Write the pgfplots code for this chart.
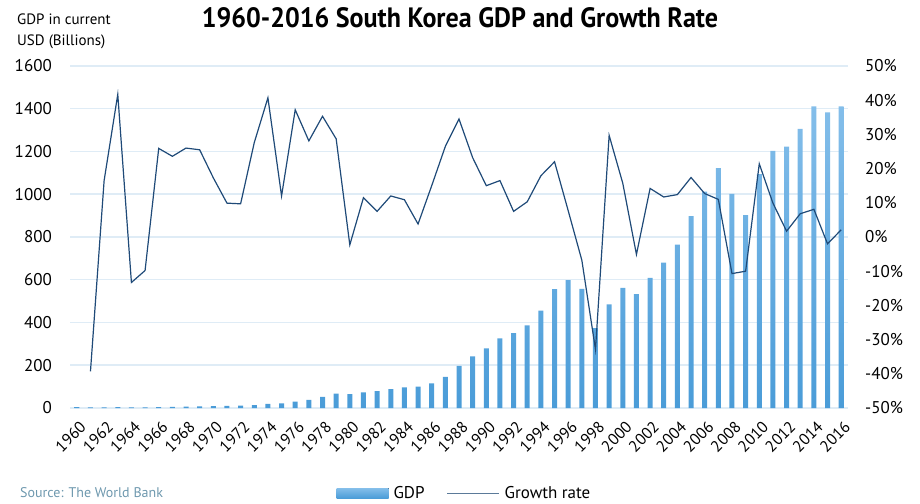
\documentclass[border=0pt]{standalone}
\usepackage{fontspec}
\setmainfont{PT Sans}
\usepackage{pgfplots}
\usepackage{pgfplotstable}
\pgfplotsset{compat=1.18}
\definecolor{gridc}{HTML}{DFECF6}
\definecolor{navy}{HTML}{1F4A78}
\definecolor{legline}{HTML}{5B7A99}
\definecolor{bartop}{HTML}{84BEEA}
\definecolor{barbot}{HTML}{4A9CD8}
\definecolor{srcc}{HTML}{6E98AE}

\pgfplotstableread{
year gdp
1960 3.96
1961 2.42
1962 2.81
1963 3.99
1964 3.46
1965 3.12
1966 3.93
1967 4.86
1968 6.12
1969 7.68
1970 9.00
1971 9.90
1972 10.85
1973 13.84
1974 19.48
1975 21.82
1976 29.94
1977 38.36
1978 51.90
1979 66.80
1980 65.40
1981 72.90
1982 78.40
1983 87.80
1984 96.60
1985 100.30
1986 115.50
1987 146.10
1988 196.50
1989 242.10
1990 279.30
1991 325.70
1992 350.00
1993 386.30
1994 455.60
1995 556.10
1996 598.10
1997 557.50
1998 374.20
1999 485.20
2000 561.60
2001 533.10
2002 609.00
2003 680.50
2004 764.90
2005 898.10
2006 1011.80
2007 1122.70
2008 1002.20
2009 901.90
2010 1094.50
2011 1202.50
2012 1222.80
2013 1305.60
2014 1411.30
2015 1382.80
2016 1411.20
}\gdptable

\pgfplotstableread{
year rate
1961 -39.3
1962 16.5
1963 41.7
1964 -13.3
1965 -9.8
1966 25.9
1967 23.6
1968 26.0
1969 25.5
1970 17.3
1971 9.9
1972 9.7
1973 27.6
1974 40.7
1975 12.0
1976 37.2
1977 28.1
1978 35.3
1979 28.7
1980 -2.3
1981 11.5
1982 7.5
1983 12.0
1984 10.9
1985 3.8
1986 15.0
1987 26.5
1988 34.5
1989 23.2
1990 15.0
1991 16.5
1992 7.5
1993 10.3
1994 17.9
1995 22.0
1996 7.7
1997 -6.8
1998 -32.9
1999 29.7
2000 15.7
2001 -5.1
2002 14.2
2003 11.7
2004 12.4
2005 17.4
2006 12.7
2007 11.0
2008 -10.7
2009 -10.0
2010 21.4
2011 9.9
2012 1.7
2013 6.8
2014 8.1
2015 -2.0
2016 2.1
}\ratetable

\begin{document}
\begin{tikzpicture}
\useasboundingbox (0pt,0pt) rectangle (920pt,503pt);
\begin{axis}[
  at={(70pt,95pt)}, anchor=south west,
  scale only axis, width=778pt, height=342pt,
  xmin=1959.5, xmax=2016.5, ymin=0, ymax=1600,
  ytick={0,200,...,1600},
  xtick={1960,1962,...,2016},
  axis line style={draw=none},
  major tick style={draw=none},
  ymajorgrids, grid style={gridc, line width=1.5pt},
  /pgf/number format/assume math mode=true,
  /pgf/number format/1000 sep={},
  yticklabel style={anchor=east, inner sep=0pt, xshift=-18pt, font=\fontsize{17}{17}\selectfont},
  xticklabel style={xshift=2pt, yshift=-12pt, rotate=45, anchor=north east, inner sep=0pt, font=\fontsize{16}{16}\selectfont},
  clip=false,
]
\addplot[ybar, bar width=5pt, draw=none, top color=bartop, bottom color=barbot] table[x=year,y=gdp]{\gdptable};
\end{axis}
\begin{axis}[
  at={(70pt,95pt)}, anchor=south west,
  scale only axis, width=778pt, height=342pt,
  xmin=1959.5, xmax=2016.5, ymin=-50, ymax=50,
  ytick={-50,-40,...,50},
  xtick=\empty,
  axis line style={draw=none},
  major tick style={draw=none},
  axis y line*=right,
  /pgf/number format/assume math mode=true,
  yticklabel={\pgfmathprintnumber{\tick}\%},
  yticklabel style={anchor=west, inner sep=0pt, xshift=17pt, font=\fontsize{17}{17}\selectfont},
  legend style={at={(0.507,-0.249)}, anchor=center, draw=none, fill=none,
    legend columns=2, font=\fontsize{17}{17}\selectfont,
    /tikz/every odd column/.append style={column sep=3pt},
    /tikz/every even column/.append style={column sep=20pt}},
  legend cell align=left,
  clip=false,
]
\addlegendimage{draw=none, legend image code/.code={\fill[top color=bartop,bottom color=barbot] (0pt,-5pt) rectangle (52pt,5pt);}}
\addlegendentry{GDP}
\addplot[navy, line width=1.2pt, legend image code/.code={\draw[legline, line width=1.2pt] (0pt,0pt) -- (52pt,0pt);}] table[x=year,y=rate]{\ratetable};
\addlegendentry{Growth rate}
\end{axis}
\node[anchor=center] at (460pt,485pt) {\scalebox{0.93}[1]{\fontsize{28}{28}\selectfont\bfseries 1960-2016 South Korea GDP and Growth Rate}};
\node[anchor=north west, align=left, inner sep=0pt, font=\fontsize{15}{21}\selectfont] at (17pt,489pt) {GDP in current\\USD (Billions)};
\node[anchor=west, inner sep=0pt, text=srcc, font=\fontsize{14}{14}\selectfont] at (20pt,10pt) {Source: The World Bank};
\end{tikzpicture}
\end{document}
